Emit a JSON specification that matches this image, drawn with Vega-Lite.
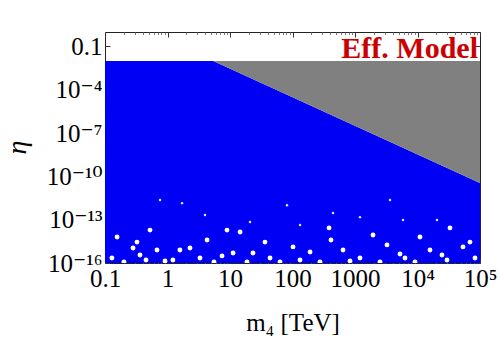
{
  "$schema": "https://vega.github.io/schema/vega-lite/v6.json",
  "width": 375,
  "height": 231,
  "autosize": {"type": "none"},
  "padding": {"left": 105, "top": 32, "right": 20, "bottom": 78},
  "background": "white",
  "config": {
    "view": {"stroke": "#222222", "strokeWidth": 1},
    "axis": {
      "grid": false,
      "domain": false,
      "labelFont": "Liberation Serif, DejaVu Serif, serif",
      "labelFontSize": 25,
      "labelColor": "black",
      "titleFont": "Liberation Serif, DejaVu Serif, serif",
      "titleFontWeight": "normal",
      "titleColor": "black",
      "tickColor": "#333333",
      "tickWidth": 1
    }
  },
  "datasets": {
    "allowed": [
      {"m": 0.1, "lo": 1e-16, "hi": 0.01},
      {"m": 5.4, "lo": 1e-16, "hi": 0.01},
      {"m": 100000, "lo": 1e-16, "hi": 3.5e-11}
    ],
    "excluded": [
      {"m": 5.4, "lo": 0.01, "hi": 0.01},
      {"m": 100000, "lo": 3.5e-11, "hi": 0.01}
    ],
    "holes": [
      {"m": 0.129, "eta": 2.2e-16}, {"m": 0.156, "eta": 6.3e-15}, {"m": 0.201, "eta": 1.2e-16},
      {"m": 0.281, "eta": 1.1e-15}, {"m": 0.325, "eta": 2.8e-15}, {"m": 0.363, "eta": 3.6e-16},
      {"m": 0.453, "eta": 1.6e-16}, {"m": 0.525, "eta": 1.9e-14}, {"m": 0.679, "eta": 7.9e-16},
      {"m": 0.912, "eta": 1.4e-16}, {"m": 1.22, "eta": 1.6e-16}, {"m": 1.58, "eta": 7.9e-16},
      {"m": 2.29, "eta": 1.1e-15}, {"m": 3.31, "eta": 2.2e-16},
      {"m": 4.29, "eta": 3.9e-15}, {"m": 5.55, "eta": 1.2e-16}, {"m": 7.45, "eta": 3.1e-16},
      {"m": 8.95, "eta": 1.9e-14}, {"m": 11.2, "eta": 4.9e-16}, {"m": 14.5, "eta": 1.4e-14},
      {"m": 18.7, "eta": 1.2e-16}, {"m": 23.3, "eta": 4.9e-16}, {"m": 36.3, "eta": 2.8e-15},
      {"m": 43.7, "eta": 2.2e-16}, {"m": 63.1, "eta": 1.2e-16},
      {"m": 102, "eta": 1.3e-15}, {"m": 132, "eta": 1.6e-16}, {"m": 191, "eta": 5.8e-16},
      {"m": 275, "eta": 1.2e-16}, {"m": 384, "eta": 2.7e-14}, {"m": 413, "eta": 3.9e-15},
      {"m": 643, "eta": 7.9e-16}, {"m": 832, "eta": 1.4e-16},
      {"m": 1202, "eta": 2.2e-16}, {"m": 1941, "eta": 8.7e-15},
      {"m": 2512, "eta": 1.2e-16}, {"m": 3251, "eta": 1.8e-15}, {"m": 5248, "eta": 4.2e-16},
      {"m": 6310, "eta": 2.2e-16}, {"m": 9120, "eta": 1.2e-16},
      {"m": 10960, "eta": 6.3e-15}, {"m": 15850, "eta": 7.9e-16},
      {"m": 24660, "eta": 3.6e-16}, {"m": 29650, "eta": 1.6e-16}, {"m": 33110, "eta": 2.7e-14},
      {"m": 53460, "eta": 1.3e-15}, {"m": 69180, "eta": 2.8e-15}, {"m": 83180, "eta": 2.2e-16}
    ],
    "specks": [
      {"m": 1.71, "eta": 1.4e-12}, {"m": 81.7, "eta": 1.0e-12}, {"m": 445, "eta": 2.9e-13},
      {"m": 1202, "eta": 1.5e-13}, {"m": 5861, "eta": 9.5e-14}, {"m": 20510, "eta": 9.5e-14},
      {"m": 0.759, "eta": 2.3e-12}, {"m": 3.98, "eta": 2.1e-13}, {"m": 20.9, "eta": 6.9e-14},
      {"m": 132, "eta": 4.3e-14}, {"m": 3631, "eta": 2.3e-12}
    ],
    "labels": [
      {"m": 100000, "eta": 0.0158, "text": "Eff. Model"}
    ]
  },
  "resolve": {"axis": {"x": "independent", "y": "independent"}},
  "layer": [
    {
      "data": {"name": "allowed"},
      "mark": {"type": "area", "color": "#0000f5", "opacity": 1},
      "encoding": {
        "x": {
          "field": "m", "type": "quantitative",
          "scale": {"type": "log", "domain": [0.1, 100000], "nice": false},
          "axis": {
            "orient": "bottom",
            "values": [0.1, 1, 10, 100, 1000, 10000, 100000],
            "labelExpr": "datum.value < 0.5 ? '0.1' : datum.value < 5000 ? format(datum.value, 'd') : datum.value < 50000 ? '10⁴' : '10⁵'",
            "tickSize": -5,
            "labelPadding": 8,
            "labelFlush": false,
            "labelOverlap": false,
            "title": "m₄ [TeV]",
            "titleFontSize": 25,
            "titleY": 67,
            "titleBaseline": "alphabetic"
          }
        },
        "y": {
          "field": "lo", "type": "quantitative",
          "scale": {"type": "log", "domain": [1e-16, 1], "nice": false},
          "axis": {
            "orient": "left",
            "values": [1e-16, 1e-13, 1e-10, 1e-7, 1e-4, 0.1],
            "labelExpr": "datum.value > 0.05 ? '0.1' : datum.value > 5e-5 ? '10⁻⁴' : datum.value > 5e-8 ? '10⁻⁷' : datum.value > 5e-11 ? '10⁻¹⁰' : datum.value > 5e-14 ? '10⁻¹³' : '10⁻¹⁶'",
            "tickSize": -5,
            "labelPadding": 8,
            "labelFlush": false,
            "labelOverlap": false,
            "labelBaseline": "middle",
            "title": "η",
            "titleFontSize": 28,
            "titleFontStyle": "italic",
            "titleAngle": -90,
            "titleX": -88,
            "titleY": 115,
            "titleAlign": "center",
            "titleBaseline": "middle"
          }
        },
        "y2": {"field": "hi"}
      }
    },
    {
      "data": {"name": "excluded"},
      "mark": {"type": "area", "color": "#808080", "opacity": 1},
      "encoding": {
        "x": {
          "field": "m", "type": "quantitative",
          "axis": {
            "orient": "top",
            "values": [0.1, 1, 10, 100, 1000, 10000, 100000],
            "labels": false,
            "tickSize": -5,
            "title": null
          }
        },
        "y": {
          "field": "lo", "type": "quantitative",
          "axis": {
            "orient": "right",
            "values": [1e-16, 1e-13, 1e-10, 1e-7, 1e-4, 0.1],
            "labels": false,
            "tickSize": -5,
            "title": null
          }
        },
        "y2": {"field": "hi"}
      }
    },
    {
      "data": {"name": "holes"},
      "mark": {"type": "point", "shape": "circle", "filled": true, "color": "white", "opacity": 1, "size": 24, "clip": true},
      "encoding": {
        "x": {"field": "m", "type": "quantitative", "axis": null},
        "y": {"field": "eta", "type": "quantitative", "axis": null}
      }
    },
    {
      "data": {"name": "specks"},
      "mark": {"type": "point", "shape": "circle", "filled": true, "color": "white", "opacity": 0.9, "size": 6, "clip": true},
      "encoding": {
        "x": {"field": "m", "type": "quantitative", "axis": null},
        "y": {"field": "eta", "type": "quantitative", "axis": null}
      }
    },
    {
      "data": {"name": "allowed"},
      "mark": {"type": "point", "opacity": 0},
      "encoding": {
        "x": {
          "field": "m", "type": "quantitative",
          "axis": {
            "orient": "bottom",
            "values": [0.2, 0.3, 0.4, 0.5, 0.6, 0.7, 0.8, 0.9, 2, 3, 4, 5, 6, 7, 8, 9, 20, 30, 40, 50, 60, 70, 80, 90, 200, 300, 400, 500, 600, 700, 800, 900, 2000, 3000, 4000, 5000, 6000, 7000, 8000, 9000, 20000, 30000, 40000, 50000, 60000, 70000, 80000, 90000],
            "labels": false,
            "tickSize": -2.5,
            "tickColor": "#777777",
            "title": null
          }
        },
        "y": {"field": "hi", "type": "quantitative", "axis": null}
      }
    },
    {
      "data": {"name": "allowed"},
      "mark": {"type": "point", "opacity": 0},
      "encoding": {
        "x": {
          "field": "m", "type": "quantitative",
          "axis": {
            "orient": "top",
            "values": [0.2, 0.3, 0.4, 0.5, 0.6, 0.7, 0.8, 0.9, 2, 3, 4, 5, 6, 7, 8, 9, 20, 30, 40, 50, 60, 70, 80, 90, 200, 300, 400, 500, 600, 700, 800, 900, 2000, 3000, 4000, 5000, 6000, 7000, 8000, 9000, 20000, 30000, 40000, 50000, 60000, 70000, 80000, 90000],
            "labels": false,
            "tickSize": -2.5,
            "tickColor": "#777777",
            "title": null
          }
        },
        "y": {"field": "hi", "type": "quantitative", "axis": null}
      }
    },
    {
      "data": {"name": "labels"},
      "mark": {"type": "text", "font": "Liberation Serif", "fontWeight": "bold", "fontSize": 30, "color": "#cc0000", "align": "right", "baseline": "alphabetic", "dx": -2},
      "encoding": {
        "x": {"field": "m", "type": "quantitative", "axis": null},
        "y": {"field": "eta", "type": "quantitative", "axis": null},
        "text": {"field": "text"}
      }
    }
  ]
}
